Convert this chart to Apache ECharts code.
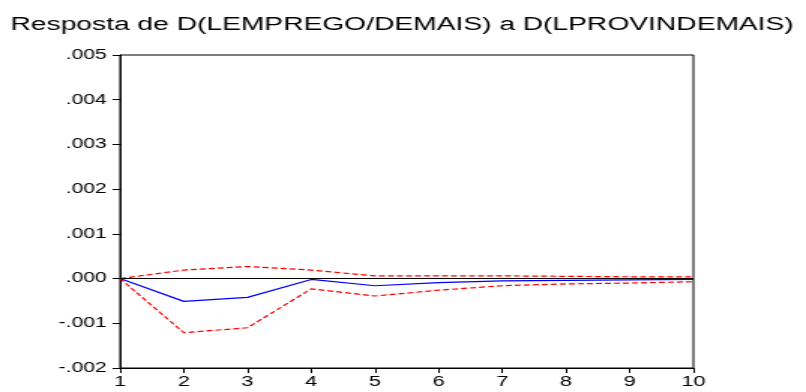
<!DOCTYPE html>
<html>
<head>
<meta charset="utf-8">
<script src="https://cdn.jsdelivr.net/npm/echarts@6/dist/echarts.min.js"></script>
<style>
html,body{margin:0;padding:0;background:#fff;overflow:hidden;}
#wrap{width:806px;height:392px;overflow:hidden;}
#c{width:537px;height:392px;transform:scaleX(1.5009);transform-origin:0 0;}
</style>
</head>
<body>
<div id="wrap"><div id="c"></div></div>
<script>
const titleText = 'Resposta de D(LEMPREGO/DEMAIS) a D(LPROVINDEMAIS)';
const periods = [1, 2, 3, 4, 5, 6, 7, 8, 9, 10];
const response = [0, -0.00051, -0.00042, -0.00002, -0.00016, -0.00009, -0.00005, -0.00004, -0.00003, -0.00002];
const upperBand = [0, 0.00019, 0.00027, 0.00019, 0.00006, 0.00006, 0.00006, 0.00005, 0.00004, 0.00004];
const lowerBand = [0, -0.00121, -0.00110, -0.00023, -0.00039, -0.00026, -0.00016, -0.00012, -0.00010, -0.00007];
const yMin = -0.002, yMax = 0.005, yStep = 0.001;

const pair = arr => periods.map((p, i) => [p, arr[i]]);
const fmtY = v => {
  let s = (Math.round(v * 1000) / 1000).toFixed(3);
  if (s === '-0.000') s = '0.000';
  return s.replace(/^(-?)0\./, '$1.');
};
const font = '"Liberation Sans", Arial, sans-serif';

const chart = echarts.init(document.getElementById('c'));
chart.setOption({
  animation: false,
  backgroundColor: '#fff',
  title: {
    text: titleText,
    left: 2, top: 10,
    textStyle: {fontFamily: font, fontSize: 18.8, fontWeight: 'normal', color: '#000'}
  },
  grid: {left: 80, right: 75, top: 55, bottom: 24, show: true, borderColor: '#000', borderWidth: 1, backgroundColor: 'transparent'},
  xAxis: {
    type: 'value', min: 1, max: 10, interval: 1,
    axisLine: {show: true, onZero: false, lineStyle: {color: '#000', width: 1}},
    axisTick: {show: true, length: 5, lineStyle: {color: '#000'}},
    axisLabel: {fontFamily: font, fontSize: 14.5, color: '#000', margin: 6, lineHeight: 15},
    splitLine: {show: false}
  },
  yAxis: {
    type: 'value', min: yMin, max: yMax, interval: yStep,
    axisLine: {show: true, onZero: false, lineStyle: {color: '#000', width: 1}},
    axisTick: {show: true, length: 5, lineStyle: {color: '#000'}},
    axisLabel: {fontFamily: font, fontSize: 14, color: '#000', margin: 9, formatter: fmtY},
    splitLine: {show: false}
  },
  series: [
    {
      type: 'line', data: pair(response), symbol: 'none',
      lineStyle: {color: '#0000ff', width: 1.2},
      markLine: {silent: true, symbol: 'none', label: {show: false},
        lineStyle: {color: '#000', width: 1, type: 'solid'}, data: [{yAxis: 0}]},
      z: 3
    },
    {type: 'line', data: pair(upperBand), symbol: 'none', lineStyle: {color: '#ff0000', width: 1.2, type: [4, 2]}, z: 2},
    {type: 'line', data: pair(lowerBand), symbol: 'none', lineStyle: {color: '#ff0000', width: 1.2, type: [4, 2]}, z: 2}
  ]
});
</script>
</body>
</html>
